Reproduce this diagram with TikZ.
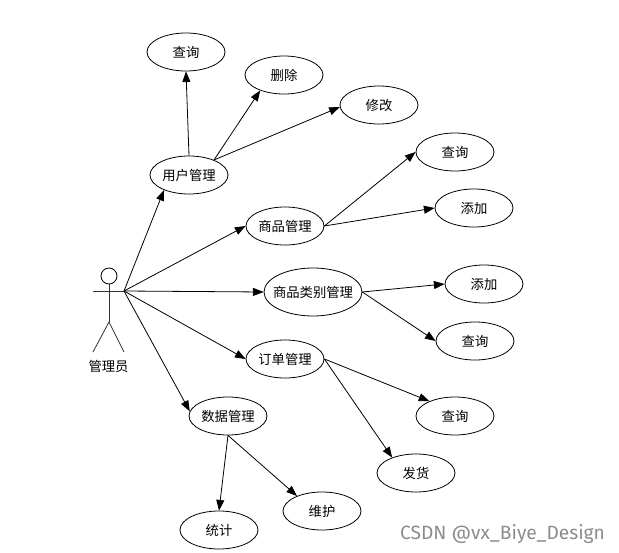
\documentclass[tikz,border=0pt]{standalone}
\usepackage{fontspec}
\setmainfont{Noto Sans CJK SC}
\newfontfamily\wmfont{Fira Sans}
\usetikzlibrary{shapes.geometric,arrows.meta}
\tikzset{
  uc/.style={draw=black,ellipse,line width=0.6pt,minimum width=58.5pt,minimum height=28.5pt,inner sep=0pt,font=\fontsize{10pt}{11pt}\selectfont,text=black},
  ucbig/.style={uc,minimum width=73.5pt,minimum height=36pt},
  link/.style={draw=black,line width=0.6pt,-{Triangle[length=8pt,width=6pt]}},
  stick/.style={draw=black!80,line width=0.6pt},
  actorlabel/.style={font=\fontsize{10pt}{11pt}\selectfont,inner sep=0pt}
}
\begin{document}
\begin{tikzpicture}[x=0.75pt,y=-0.75pt]
\useasboundingbox (0,0) rectangle (619,553);
\node[uc] (q1) at (186,52) {查询};
\node[uc] (del) at (284,75) {删除};
\node[uc] (mod) at (379,105) {修改};
\node[uc] (user) at (189,175) {用户管理};
\node[uc] (q2) at (455,152) {查询};
\node[uc] (add2) at (474,208) {添加};
\node[uc] (goods) at (285,226) {商品管理};
\node[ucbig] (cat) at (313,292) {\makebox[0pt]{商品类别管理}};
\node[uc] (add3) at (484,284) {添加};
\node[uc] (q3) at (475,341) {查询};
\node[uc] (order) at (285,359) {订单管理};
\node[uc] (q4) at (455,416) {查询};
\node[uc] (ship) at (416,473) {发货};
\node[uc] (data) at (228,416) {数据管理};
\node[uc] (keep) at (322,511) {维护};
\node[uc] (stat) at (219,530) {统计};
% actor
\node[circle,draw=black,line width=0.6pt,minimum size=12pt,inner sep=0pt] (head) at (109,276) {};
\coordinate (hip) at (109,322);
\coordinate (armL) at (93,291);
\coordinate (hub) at (124,291);
\coordinate (footL) at (93,352);
\coordinate (footR) at (124,352);
\draw[stick] (head.south) -- (hip);
\draw[stick] (armL) -- (hub);
\draw[stick] (footL) -- (hip) -- (footR);
\node[actorlabel] (actor) at (108.5,366) {管理员};
% links
\draw[link] (hub) -- (user.211);
\draw[link] (hub) -- (goods.west);
\draw[link] (hub) -- (cat.west);
\draw[link] (hub) -- (order.west);
\draw[link] (hub) -- (data.173);
\draw[link] (user.north) -- (q1.south);
\draw[link] (user.31) -- (del.213);
\draw[link] (user.31) -- (mod.183);
\draw[link] (goods.east) -- (q2.west);
\draw[link] (goods.east) -- (add2.west);
\draw[link] (cat.east) -- (add3.west);
\draw[link] (cat.east) -- (q3.west);
\draw[link] (order.east) -- (q4.150);
\draw[link] (order.east) -- (ship.147);
\draw[link] (data.south) -- (stat.north);
\draw[link] (data.south) -- (keep.149);
\node[font=\wmfont\fontsize{14.4pt}{16pt}\selectfont,text=black!45,inner sep=0pt] (wm) at (502.5,534) {CSDN @vx\_Biye\_Design};
\end{tikzpicture}
\end{document}
